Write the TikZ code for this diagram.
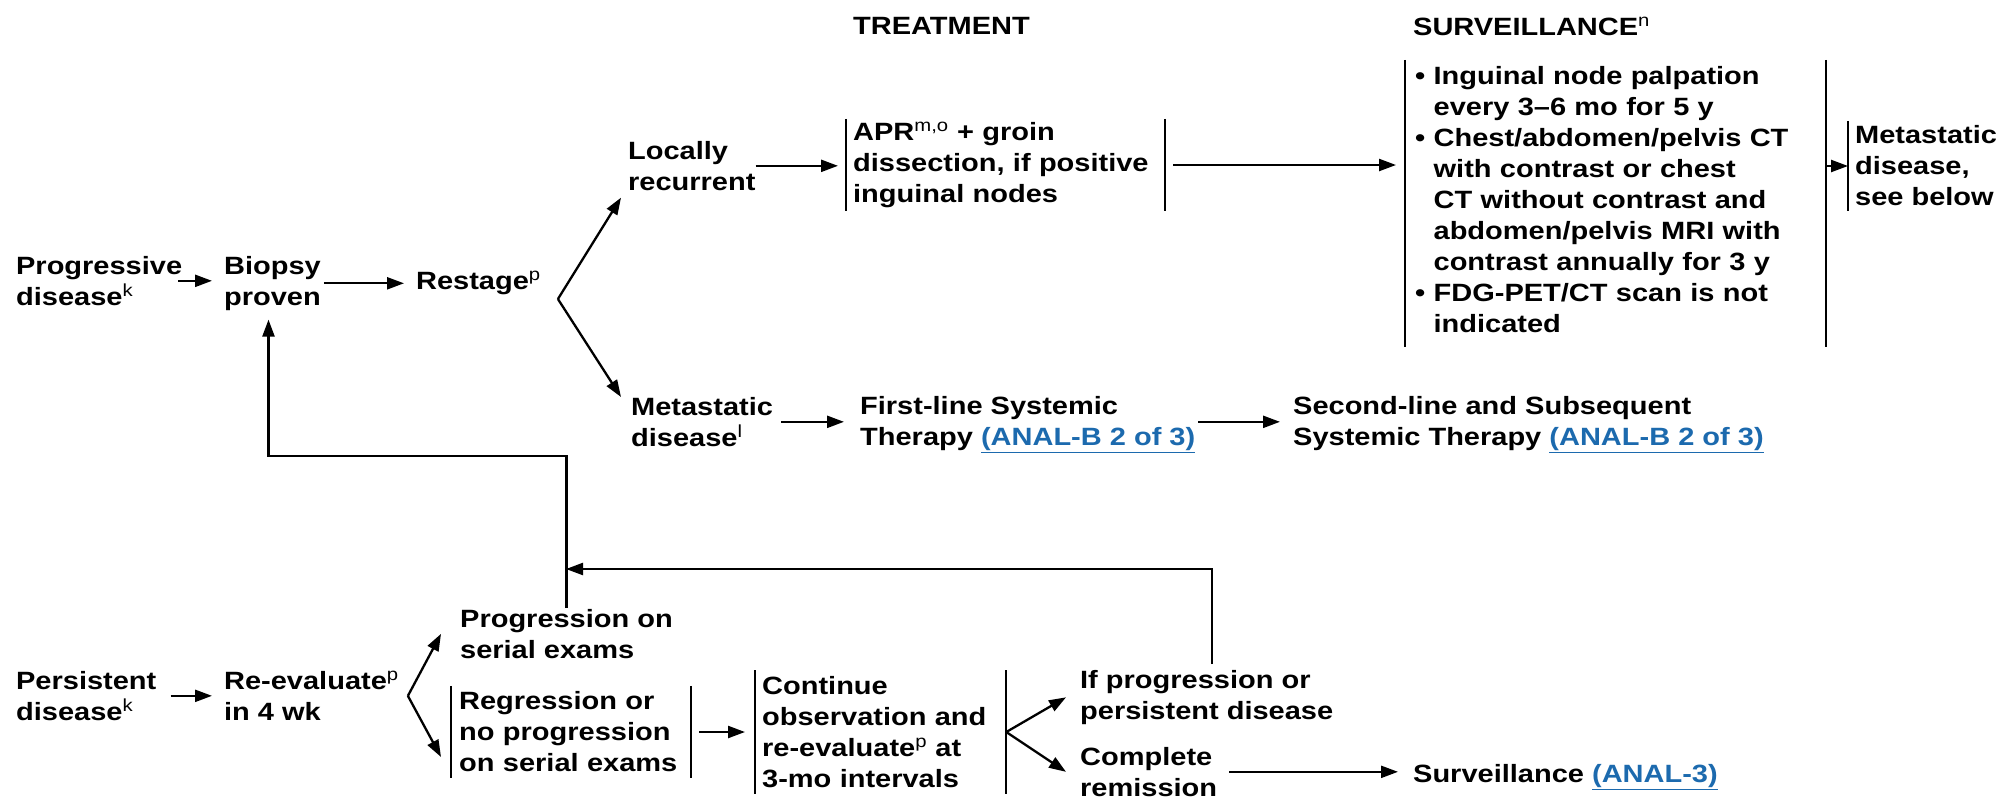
\documentclass[tikz,border=0pt]{standalone}
\usepackage{fontspec}
\setmainfont{Liberation Sans}[FakeStretch=1.16]
\usetikzlibrary{arrows.meta,positioning}
\definecolor{nccnblue}{HTML}{1C6AAE}
\newcommand{\fnote}[1]{\textsuperscript{\mdseries #1}}
\newcommand{\anlink}[1]{\textcolor{nccnblue}{\underline{#1}}}
\newcommand{\ind}{\hphantom{\textbullet\ }}

\begin{document}
\begin{tikzpicture}[x=1pt,y=-1pt,>={Triangle[length=17pt,width=12pt]},
  font=\fontsize{25}{31}\selectfont\bfseries,
  line width=2.3pt,
  lbl/.style={align=left,inner sep=0pt,anchor=north west},
  barbox/.style={align=left,inner ysep=0pt,anchor=west},
  arr/.style={->}]
  \useasboundingbox (0,0) rectangle (2001,800);

  % column heads
  \node[lbl] (treathead) at (852,16) {TREATMENT};
  \node[lbl] (survhead) at (1412,16) {SURVEILLANCE\fnote{n}};

  % progressive disease
  \node[lbl] (prog) at (15,255) {Progressive\\disease\fnote{k}};
  \node[lbl] (biopsy) at (223,255) {Biopsy\\proven};
  \node[lbl] (restage) at (415,270) {Restage\fnote{p}};
  \node[lbl] (local) at (627,140) {Locally\\recurrent};
  \node[barbox,inner xsep=6pt,text width=305pt,minimum height=90pt] (apr) at (846,165)
    {APR\fnote{m,o} + groin\\dissection, if positive\\inguinal nodes};
  \node[lbl,inner xsep=9pt,text width=401pt] (survbox) at (1405,65)
    {\textbullet\ Inguinal node palpation\\\ind every 3--6 mo for 5 y\\
     \textbullet\ Chest/abdomen/pelvis CT\\\ind with contrast or chest\\
     \ind CT without contrast and\\\ind abdomen/pelvis MRI with\\
     \ind contrast annually for 3 y\\
     \textbullet\ FDG-PET/CT scan is not\\\ind indicated};
  \node[barbox,inner xsep=6pt,minimum height=88pt] (meta1) at (1848,166) {Metastatic\\disease,\\see below};
  \node[lbl] (meta2) at (630,396) {Metastatic\\disease\fnote{l}};
  \node[lbl] (first) at (859,395) {First-line Systemic\\Therapy \anlink{(ANAL-B 2 of 3)}};
  \node[lbl] (second) at (1292,395) {Second-line and Subsequent\\Systemic Therapy \anlink{(ANAL-B 2 of 3)}};

  % persistent disease
  \node[lbl] (persist) at (15,670) {Persistent\\disease\fnote{k}};
  \node[lbl] (reeval) at (223,670) {Re-evaluate\fnote{p}\\in 4 wk};
  \node[lbl] (progser) at (459,608) {Progression on\\serial exams};
  \node[barbox,inner xsep=7pt,text width=224pt,minimum height=90pt] (regress) at (451,732)
    {Regression or\\no progression\\on serial exams};
  \node[barbox,inner xsep=6pt,text width=237pt,minimum height=121pt] (cont) at (755,732)
    {Continue\\observation and\\re-evaluate\fnote{p} at\\3-mo intervals};
  \node[lbl] (ifprog) at (1079,669) {If progression or\\persistent disease};
  \node[lbl] (complete) at (1079,746) {Complete\\remission};
  \node[lbl] (survlink) at (1412,763) {Surveillance \anlink{(ANAL-3)}};

  % side bars
  \foreach \b in {apr,regress,cont}
    \draw (\b.north west) -- (\b.south west) (\b.north east) -- (\b.south east);
  \draw ([yshift=5pt]survbox.north west) -- ([yshift=-13pt]survbox.south west)
        ([yshift=5pt]survbox.north east) -- ([yshift=-13pt]survbox.south east);
  \draw (meta1.north west) -- (meta1.south west);

  % arrows
  \draw[arr,shorten <=-5pt,shorten >=11pt] (prog.east) -- (prog.east -| biopsy.west);
  \draw[arr,shorten <=2pt,shorten >=11pt] (biopsy.east) -- (biopsy.east -| restage.west);
  \coordinate (rsplit) at ([xshift=16pt,yshift=-16pt]restage.east);
  \draw[arr] (rsplit) -- ([xshift=-6pt,yshift=-6pt]local.south west);
  \draw[arr] (rsplit) -- ([xshift=-9pt,yshift=-1pt]meta2.north west);
  \draw[arr,shorten <=-1pt,shorten >=8pt] (local.east) -- (local.east -| apr.west);
  \draw[arr,shorten <=8pt,shorten >=9pt] (apr.east) -- (apr.east -| survbox.west);
  \draw[arr] (meta1.west -| survbox.east) -- (meta1.west);
  \draw[arr,shorten <=7pt,shorten >=15pt] (meta2.east) -- (meta2.east -| first.west);
  \draw[arr,shorten <=2pt,shorten >=12pt] (first.east |- meta2.east) -- (second.west |- meta2.east);

  \draw[arr,shorten <=13pt,shorten >=11pt] (persist.east) -- (persist.east -| reeval.west);
  \coordinate (esplit) at ([xshift=8pt]reeval.east);
  \draw[arr] (esplit) -- ([xshift=-18pt]progser.west);
  \draw[arr] (esplit) -- ([xshift=-10pt,yshift=-25pt]regress.west);
  \draw[arr,shorten <=8pt,shorten >=10pt] (regress.east) -- (regress.east -| cont.west);
  \draw[arr] (cont.east) -- ([xshift=-13pt]ifprog.west);
  \draw[arr] (cont.east) -- ([xshift=-13pt]complete.west);
  \draw[arr,shorten <=11pt,shorten >=14pt] (complete.east) -- (complete.east -| survlink.west);

  % loops back
  \coordinate (loopA) at (400,456);
  \draw[arr,shorten >=8pt] (progser.north) |- (loopA) -| ([xshift=-4pt]biopsy.south);
  \coordinate (loopB) at (566,569);
  \draw[arr] ([shift={(5pt,5pt)}]ifprog.north) |- (loopB);
\end{tikzpicture}
\end{document}
